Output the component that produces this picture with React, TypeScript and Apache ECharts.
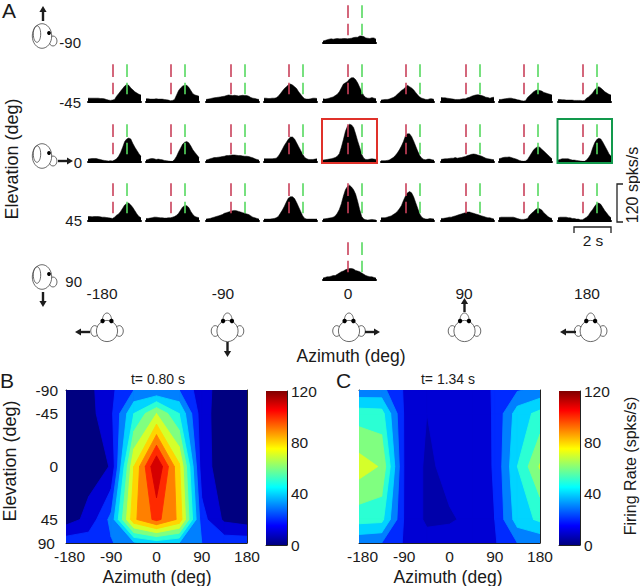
import React, { useEffect, useRef } from "react";
import * as echarts from "echarts";

const FONT = "Liberation Sans";
const INK = "#1a1a1a";

// ---- Peri-stimulus histograms (spks/s per bin) ----
const binSeconds = 2.86 / 26;
const windowSeconds = 2.86;
const redTime = 1.32;
const greenTime = 2.11;
const dashRanges = [[24, 60], [78, 118]];

const top0 = [6,8,10,12,13,12,13,14,13,13,14,14,13,14,15,17,18,18,22,22,20,16,15,14,16,16,12];

const upper1 = [12,12,12,12,12,12,11,11,10,8,6,5,6,8,18,26,34,42,50,55,52,44,38,32,28,24,22];
const upper2 = [10,10,9,9,9,10,9,9,9,8,7,6,4,5,8,22,36,44,50,52,52,46,36,26,22,20,18];
const upper3 = [8,9,10,12,13,14,15,16,17,18,20,22,21,20,21,20,19,20,21,20,20,18,14,12,11,9,8];
const upper4 = [12,12,11,11,12,12,13,18,26,34,42,48,54,56,53,48,42,32,24,16,10,9,9,10,12,12,11];
const upper5 = [10,9,10,12,14,16,20,24,32,44,56,60,64,72,76,76,70,60,46,32,20,14,12,12,14,12,10];
const upper6 = [6,7,8,8,9,12,14,18,24,30,36,40,46,52,48,44,38,30,22,16,12,10,8,8,10,10,8];
const upper7 = [14,13,13,12,11,10,9,8,8,8,9,10,10,13,15,18,20,22,23,22,20,18,15,14,12,14,15];
const upper8 = [8,8,9,10,11,12,12,10,9,7,6,4,3,4,14,20,26,32,36,38,36,34,30,28,26,24,22];
const upper9 = [8,8,7,7,6,6,6,6,5,5,5,5,4,5,12,16,22,28,38,44,48,44,38,32,28,24,22];

const mid1 = [9,10,11,11,11,9,8,6,5,4,3,4,3,6,10,18,30,46,64,72,75,72,58,46,36,26,18];
const mid2 = [6,8,10,11,10,8,9,8,7,5,4,3,2,2,8,18,32,44,56,62,64,60,50,38,30,22,14];
const mid3 = [6,8,10,12,14,14,15,16,17,18,20,20,21,22,22,21,20,20,19,18,18,17,15,13,10,8,6];
const mid4 = [10,10,10,10,10,11,12,18,28,40,52,62,72,78,78,72,60,48,36,24,14,10,8,8,8,9,10];
const mid5 = [6,7,8,9,10,12,14,18,26,46,70,96,112,118,116,108,88,66,46,24,12,8,8,9,10,9,8];
const mid6 = [4,4,4,5,6,10,14,20,28,38,50,64,82,88,88,80,66,50,34,20,12,8,7,9,9,7,6];
const mid7 = [8,9,10,10,11,12,12,14,12,13,14,16,17,20,22,24,25,24,22,20,18,15,12,10,9,8,7];
const mid8 = [10,12,14,15,15,16,14,12,10,8,5,3,2,3,8,18,28,38,44,48,46,40,34,28,22,16,10];
const mid9 = [6,8,10,10,10,10,8,6,6,5,4,3,2,2,6,14,24,44,60,70,74,72,62,50,38,26,18];

const lower1 = [14,14,13,14,14,14,13,12,12,11,10,9,8,12,18,22,30,40,50,55,56,50,42,32,22,14,10];
const lower2 = [8,8,9,10,12,12,11,10,10,9,9,10,10,12,14,18,24,34,44,48,48,42,30,20,14,12,10];
const lower3 = [6,7,8,10,12,14,16,18,20,24,26,28,30,32,33,32,30,28,26,24,22,20,16,12,10,8,6];
const lower4 = [6,6,6,6,7,8,10,14,24,34,46,60,72,76,76,70,58,44,30,16,8,6,6,6,6,6,6];
const lower5 = [6,7,8,9,10,12,16,24,36,54,78,98,108,112,106,98,84,62,36,14,6,4,3,4,5,4,3];
const lower6 = [10,10,10,12,14,16,20,24,30,38,48,64,78,88,92,88,76,58,40,22,12,8,6,6,8,7,6];
const lower7 = [8,8,9,10,12,12,14,16,18,20,22,24,26,28,28,26,24,22,20,18,16,14,12,10,10,8,6];
const lower8 = [10,12,12,12,12,12,12,12,10,8,6,5,5,6,8,18,24,30,36,40,38,34,26,20,14,10,8];
const lower9 = [10,12,12,12,12,10,10,8,8,6,6,4,4,8,12,18,28,36,46,54,56,52,42,32,24,16,10];

const bottom0 = [6,8,10,10,12,14,14,18,22,26,28,32,34,36,36,34,30,28,26,22,18,14,12,10,10,8,6];

const columnLefts = [88, 146, 206, 264, 323, 381, 441, 499, 558];
const rowBaselines = { top: 44, upper: 103, mid: 163, lower: 222, bottom: 281 };
const PSTH_W = 53;
const PSTH_H = 40;
const PSTH_MAX = 125;

const psths = [
  { column: 4, base: rowBaselines.top, rates: top0 },
  ...[upper1, upper2, upper3, upper4, upper5, upper6, upper7, upper8, upper9].map((rates, column) => ({ column, base: rowBaselines.upper, rates })),
  ...[mid1, mid2, mid3, mid4, mid5, mid6, mid7, mid8, mid9].map((rates, column) => ({ column, base: rowBaselines.mid, rates })),
  ...[lower1, lower2, lower3, lower4, lower5, lower6, lower7, lower8, lower9].map((rates, column) => ({ column, base: rowBaselines.lower, rates })),
  { column: 4, base: rowBaselines.bottom, rates: bottom0 },
];

// ---- Tuning maps: elevation rows, azimuth columns ----
const azimuths = [-180, -135, -90, -45, 0, 45, 90, 135, 180];
// elevation axis of the maps is not linear: ±90 are squeezed to the position of ±65
const elevationPositions = [-65, -45, 0, 45, 65];
const elevationLabels = ["-90", "-45", "0", "45", "90"];
const azimuthTicks = [-180, -90, 0, 90, 180];
const contourLevels = [10, 20, 30, 40, 50, 60, 70, 80, 90, 100, 110];

const mapB_m90 = [4, 7, 18, 30, 30, 30, 14, 5, 4];
const mapB_m45 = [4, 6, 18, 50, 70, 50, 14, 4, 4];
const mapB_0 = [4, 6, 10.5, 80, 120, 82, 14, 5, 4];
const mapB_45 = [5, 13, 33, 88, 103, 88, 24, 8, 5];
const mapB_90 = [26, 26, 29, 38, 44, 40, 30, 26, 26];

const mapC_m90 = [33, 33, 19, 13, 14, 15, 21, 29, 33];
const mapC_m45 = [55, 54, 19, 10, 13, 14, 21, 45, 53];
const mapC_0 = [75, 69, 19, 8, 13, 13, 21, 50, 71];
const mapC_45 = [54, 53, 19, 8, 9, 12, 20, 45, 52];
const mapC_90 = [32, 30, 19, 14, 14, 14, 19, 30, 32];

const mapB = [mapB_m90, mapB_m45, mapB_0, mapB_45, mapB_90];
const mapC = [mapC_m90, mapC_m45, mapC_0, mapC_45, mapC_90];
const mapBFloor = 0;
const mapCFloor = 5;

const colorbarTicks = [0, 40, 80, 120];

function jet(t: number) {
  const c = (x: number) => Math.round(255 * Math.max(0, Math.min(1, x)));
  const r = 1.5 - Math.abs(4 * t - 3);
  const g = 1.5 - Math.abs(4 * t - 2);
  const b = 1.5 - Math.abs(4 * t - 1);
  return `rgb(${c(r)},${c(g)},${c(b)})`;
}

// region of one grid cell where value >= level
function clipCell(corners: number[][], level: number) {
  const out: number[][] = [];
  for (let i = 0; i < 4; i++) {
    const a = corners[i];
    const b = corners[(i + 1) % 4];
    if (a[2] >= level) out.push([a[0], a[1]]);
    if ((a[2] >= level) !== (b[2] >= level)) {
      const f = (level - a[2]) / (b[2] - a[2]);
      out.push([a[0] + f * (b[0] - a[0]), a[1] + f * (b[1] - a[1])]);
    }
  }
  return out;
}

function contourPolygons(matrix: number[][], floor: number) {
  const last = elevationPositions.length - 1;
  const polys: { level: number; points: number[][] }[] = [
    {
      level: floor,
      points: [
        [azimuths[0], elevationPositions[0]],
        [azimuths[8], elevationPositions[0]],
        [azimuths[8], elevationPositions[last]],
        [azimuths[0], elevationPositions[last]],
      ],
    },
  ];
  for (const level of contourLevels) {
    for (let r = 0; r < matrix.length - 1; r++) {
      for (let c = 0; c < azimuths.length - 1; c++) {
        const corners = [
          [azimuths[c], elevationPositions[r], matrix[r][c]],
          [azimuths[c + 1], elevationPositions[r], matrix[r][c + 1]],
          [azimuths[c + 1], elevationPositions[r + 1], matrix[r + 1][c + 1]],
          [azimuths[c], elevationPositions[r + 1], matrix[r + 1][c]],
        ];
        const points = clipCell(corners, level);
        if (points.length > 2) polys.push({ level, points });
      }
    }
  }
  return polys;
}

// ---- decorative drawing helpers ----
const OUT = "#444";
function arrow(x1: number, y1: number, x2: number, y2: number) {
  const dx = Math.sign(x2 - x1);
  const dy = Math.sign(y2 - y1);
  const L = 6;
  const W = 3.6;
  return [
    { type: "line", shape: { x1, y1, x2: x2 - dx * L, y2: y2 - dy * L }, style: { stroke: "#1c1c1c", lineWidth: 2.4 }, silent: true },
    {
      type: "polygon",
      shape: { points: [[x2, y2], [x2 - dx * L - dy * W, y2 - dy * L - dx * W], [x2 - dx * L + dy * W, y2 - dy * L + dx * W]] },
      style: { fill: "#1c1c1c" },
      silent: true,
    },
  ];
}
function frontHead(cx: number, cy: number) {
  const s = { fill: "#fff", stroke: OUT, lineWidth: 0.8 };
  return [
    { type: "ellipse", shape: { cx: cx - 12.3, cy, rx: 4, ry: 5.4 }, style: s },
    { type: "ellipse", shape: { cx: cx + 12.3, cy, rx: 4, ry: 5.4 }, style: s },
    { type: "ellipse", shape: { cx, cy: cy - 10.5, rx: 4.6, ry: 7.5 }, style: s },
    { type: "circle", shape: { cx, cy, r: 10.6 }, style: s },
    { type: "circle", shape: { cx: cx - 4.4, cy: cy - 10, r: 2.2 }, style: { fill: "#000" } },
    { type: "circle", shape: { cx: cx + 4.4, cy: cy - 10, r: 2.2 }, style: { fill: "#000" } },
  ];
}
function sideHead(cx: number, cy: number) {
  const s = { fill: "#fff", stroke: OUT, lineWidth: 0.8 };
  return [
    { type: "ellipse", shape: { cx: cx + 11, cy: cy + 5, rx: 4, ry: 5 }, style: s },
    { type: "ellipse", shape: { cx, cy, rx: 9.7, ry: 12.3 }, style: s },
    { type: "ellipse", shape: { cx: cx - 5, cy: cy - 2, rx: 3.7, ry: 8.3 }, style: { fill: "none", stroke: OUT, lineWidth: 0.8 } },
    { type: "circle", shape: { cx: cx + 7, cy: cy - 3, r: 1.9 }, style: { fill: "#000" } },
  ];
}
function label(text: string, x: number, y: number, size = 15.5, align = "center", rotation = 0) {
  return {
    type: "text",
    x,
    y,
    rotation,
    silent: true,
    style: { text, fontFamily: FONT, fontSize: size, fill: INK, align, verticalAlign: "middle" },
  };
}
function rectBox(x: number, y: number, width: number, height: number, stroke: string) {
  return { type: "rect", shape: { x, y, width, height }, style: { fill: "none", stroke, lineWidth: 2 }, silent: true, z: 20 };
}
function bar(points: number[][]) {
  return { type: "polyline", shape: { points }, style: { stroke: "#222", lineWidth: 1.3, fill: "none" }, silent: true };
}

function buildOption() {
  const grid: any[] = [];
  const xAxis: any[] = [];
  const yAxis: any[] = [];
  const series: any[] = [];

  psths.forEach((p) => {
    const idx = grid.length;
    grid.push({ left: columnLefts[p.column], width: PSTH_W, top: p.base - 1 - PSTH_H, height: PSTH_H });
    xAxis.push({
      type: "value", gridIndex: idx, min: 0, max: windowSeconds,
      axisLine: { show: true, lineStyle: { color: "#000", width: 2 } },
      axisTick: { show: false }, axisLabel: { show: false }, splitLine: { show: false },
    });
    yAxis.push({ type: "value", gridIndex: idx, min: 0, max: PSTH_MAX, show: false, splitLine: { show: false } });
    const dashLines: any[] = [];
    for (const [t, color] of [[redTime, "#c9405a"], [greenTime, "#55d95f"]] as [number, string][]) {
      for (const [a, b] of dashRanges) {
        dashLines.push([{ coord: [t, a], lineStyle: { color, width: 1.6, type: "solid" } }, { coord: [t, b] }]);
      }
    }
    series.push({
      type: "line", xAxisIndex: idx, yAxisIndex: idx, showSymbol: false, silent: true,
      data: p.rates.map((v, i) => [i * binSeconds, v]),
      lineStyle: { color: "#000", width: 0.5 },
      areaStyle: { color: "#000", opacity: 1 },
      markLine: { silent: true, symbol: "none", animation: false, label: { show: false }, data: dashLines },
    });
  });

  const addMap = (left: number, matrix: number[][], floor: number, showElevation: boolean) => {
    const idx = grid.length;
    const polys = contourPolygons(matrix, floor);
    grid.push({ left, width: 181, top: 390, height: 153 });
    const line = { show: true, lineStyle: { color: "#222", width: 1 } };
    const xBottom = xAxis.length;
    xAxis.push({
      type: "value", gridIndex: idx, min: -180, max: 180, interval: 90, position: "bottom",
      axisLine: { ...line, onZero: false },
      axisTick: { show: true, inside: true, length: 2, lineStyle: { color: "#222" } },
      axisLabel: {
        show: true, margin: 5, fontFamily: FONT, fontSize: 15.5, color: INK,
        customValues: azimuthTicks, showMinLabel: true, showMaxLabel: true,
        formatter: (v: number) => (v === -180 ? "{first|-180}" : String(v)),
        rich: { first: { padding: [0, 0, 0, 7], fontFamily: FONT, fontSize: 15.5, color: INK } },
      },
      splitLine: { show: false },
    });
    const yLeft = yAxis.length;
    yAxis.push({
      type: "value", gridIndex: idx, min: -65, max: 65, inverse: true, position: "left",
      axisLine: { ...line, onZero: false },
      axisTick: { show: true, inside: true, length: 2, customValues: elevationPositions, lineStyle: { color: "#222" } },
      axisLabel: {
        show: showElevation, margin: 8, fontFamily: FONT, fontSize: 15.5, color: INK,
        customValues: elevationPositions,
        formatter: (v: number) => {
          const text = elevationLabels[elevationPositions.indexOf(v)] ?? "";
          return v === 65 ? `{last|${text}}` : text;
        },
        rich: { last: { padding: [0, 3, 0, 0], fontFamily: FONT, fontSize: 15.5, color: INK } },
      },
      splitLine: { show: false },
    });
    // right-hand and top box sides
    xAxis.push({
      type: "value", gridIndex: idx, min: -180, max: 180, position: "top",
      axisLine: { ...line, onZero: false }, axisTick: { show: false }, axisLabel: { show: false }, splitLine: { show: false },
    });
    yAxis.push({
      type: "value", gridIndex: idx, min: -65, max: 65, inverse: true, position: "right",
      axisLine: { ...line, onZero: false },
      axisTick: { show: true, inside: true, length: 2, customValues: elevationPositions, lineStyle: { color: "#222" } },
      axisLabel: { show: false, customValues: elevationPositions }, splitLine: { show: false },
    });
    series.push({
      type: "custom", xAxisIndex: xBottom, yAxisIndex: yLeft, silent: true, clip: true,
      data: polys.map((p) => [p.points[0][0], p.points[0][1], p.level]),
      renderItem: (params: any, api: any) => {
        const poly = polys[params.dataIndex];
        const color = jet(poly.level / 120);
        return {
          type: "polygon",
          shape: { points: poly.points.map((pt) => api.coord(pt)) },
          style: { fill: color, stroke: color, lineWidth: 0.9 },
        };
      },
      z: 1,
    });
  };

  const addColorbar = (left: number) => {
    const idx = grid.length;
    grid.push({ left, width: 21, top: 391, height: 154 });
    xAxis.push({
      type: "category", gridIndex: idx, data: [""], position: "top",
      axisLine: { show: true, lineStyle: { color: "#222" } }, axisTick: { show: false }, axisLabel: { show: false },
    });
    yAxis.push({
      type: "value", gridIndex: idx, min: 0, max: 120, interval: 40, position: "right",
      axisLine: { show: true, lineStyle: { color: "#222" } },
      axisTick: { show: true, inside: true, length: 2, lineStyle: { color: "#222" } },
      axisLabel: { show: true, margin: 4, fontFamily: FONT, fontSize: 15.5, color: INK },
      splitLine: { show: false },
    });
    series.push({
      type: "bar", xAxisIndex: xAxis.length - 1, yAxisIndex: yAxis.length - 1, barWidth: "100%", silent: true,
      data: [colorbarTicks[colorbarTicks.length - 1]],
      itemStyle: {
        color: new echarts.graphic.LinearGradient(0, 1, 0, 0, [
          { offset: 0, color: "#000080" }, { offset: 0.125, color: "#0000ff" }, { offset: 0.375, color: "#00ffff" },
          { offset: 0.625, color: "#ffff00" }, { offset: 0.875, color: "#ff0000" }, { offset: 1, color: "#800000" },
        ]),
      },
    });
  };

  addMap(66, mapB, mapBFloor, true);
  addColorbar(266);
  addMap(359, mapC, mapCFloor, false);
  addColorbar(559);

  const R = Math.PI / 2;
  const elements: any[] = [
    label("A", 2, 10, 21, "left"),
    label("B", 0, 380, 21, "left"),
    label("C", 336, 380, 21, "left"),
    label("-90", 81, 42, 15, "right"),
    label("-45", 81, 102, 15, "right"),
    label("0", 82, 162, 15, "right"),
    label("45", 82, 220, 15, "right"),
    label("90", 82, 281, 15, "right"),
    label("-180", 102, 293),
    label("-90", 223, 293),
    label("0", 348, 293),
    label("90", 464, 293),
    label("180", 587, 293),
    label("Azimuth (deg)", 351, 356, 17.5),
    label("Elevation (deg)", 12, 159, 18, "center", R),
    label("Elevation (deg)", 10, 461, 18, "center", R),
    label("Azimuth (deg)", 157, 577, 17.5),
    label("Azimuth (deg)", 448, 577, 17.5),
    label("Firing Rate (spks/s)", 630, 466, 16, "center", R),
    label("120 spks/s", 632, 185, 16, "center", R),
    label("2 s", 593, 240),
    label("t= 0.80 s", 158, 379, 14),
    label("t= 1.34 s", 448, 379, 14),
    bar([[574, 233], [574, 227], [611, 227], [611, 233]]),
    bar([[623, 184], [617, 184], [617, 222], [623, 222]]),
    rectBox(322, 119, 55, 44, "#e0312a"),
    rectBox(557.5, 119, 54.5, 44, "#12994c"),
    ...sideHead(42, 36), ...arrow(43, 21, 43, 6),
    ...sideHead(42, 156), ...arrow(58, 161, 73, 161),
    ...sideHead(42, 277), ...arrow(43, 292, 43, 307),
    ...frontHead(107, 331), ...arrow(90, 332, 75, 332),
    ...frontHead(227.5, 331), ...arrow(227.5, 342, 227.5, 357),
    ...frontHead(349, 331), ...arrow(365, 332, 380, 332),
    ...frontHead(464.5, 331), ...arrow(464.5, 312, 464.5, 298),
    ...frontHead(590.7, 331), ...arrow(576, 332, 560, 332),
  ];

  return { animation: false, backgroundColor: "#fff", grid, xAxis, yAxis, series, graphic: { elements } };
}

export default function App() {
  const ref = useRef<HTMLDivElement>(null);
  useEffect(() => {
    document.body.style.margin = "0";
    const chart = echarts.init(ref.current!, undefined, { renderer: "svg" });
    chart.setOption(buildOption() as any);
    return () => chart.dispose();
  }, []);
  return <div ref={ref} style={{ width: 640, height: 586 }} />;
}
